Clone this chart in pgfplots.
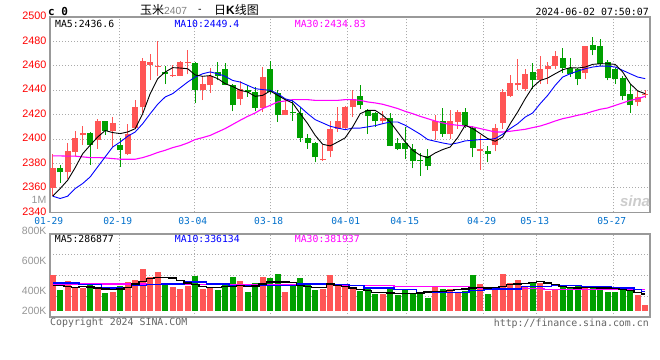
\documentclass[border=0pt]{standalone}
\usepackage{fontspec}
\usepackage{pgfplots}
\usepackage{pgfplotstable}
\pgfplotsset{compat=1.18}
\newfontfamily\mono{DejaVu Sans Mono}
\newfontfamily\lsans{Liberation Sans}
\newfontfamily\cjk{Noto Sans CJK SC}
\definecolor{upred}{RGB}{255,85,85}
\definecolor{dngreen}{RGB}{0,160,0}
\definecolor{gridc}{RGB}{170,170,170}
\definecolor{borderc}{RGB}{153,153,153}
\definecolor{datec}{RGB}{0,112,204}
\definecolor{ma10c}{RGB}{0,0,255}
\definecolor{ma30c}{RGB}{255,0,255}
\definecolor{labgray}{RGB}{150,150,150}
\definecolor{txtgray}{RGB}{100,100,100}
\newcommand{\fs}[1]{\fontsize{#1}{#1}\selectfont}

\pgfplotstableread{
i o h l c
0 2360 2388 2353 2376
2 2373 2397 2367 2390.6
3 2389 2406.4 2386 2401
4 2403 2411 2395 2405
6 2399.5 2416.5 2392 2415
8 2407 2418 2393.5 2413.5
10 2387.5 2412.6 2387 2404.5
11 2409 2432 2408.5 2426.5
12 2426 2466 2421 2464
13 2461 2470 2448 2463
14 2459 2480 2452 2460
16 2451.6 2461 2451 2452.7
17 2452 2464 2451.6 2463
18 2462 2473 2453 2463
20 2440 2452 2432 2445
21 2444 2458 2438 2452
25 2432.5 2447.5 2427.6 2441
28 2425.5 2459 2422 2451
31 2419.5 2433 2419.5 2424
36 2382.6 2395 2382 2384
37 2390 2415 2385 2408.5
38 2408.5 2426 2406 2415
39 2409 2427 2408.5 2426
40 2426 2440 2418 2433
44 2414.5 2422.7 2412 2417.5
51 2407 2419.5 2399 2415
53 2404 2423.5 2400 2415
54 2414 2423.5 2408.5 2422
57 2390.5 2403 2374.5 2391.6
59 2395 2412 2390 2409
60 2413.5 2441 2408.5 2438.5
61 2435 2452.7 2434.5 2446
62 2444 2466 2440 2446
63 2441 2457 2439 2453.5
65 2448 2467.7 2445 2457
66 2457 2463.5 2445 2459.5
67 2459.5 2472 2457.6 2467.7
71 2454 2476.5 2449 2476.5
78 2430 2439 2427 2434.5
79 2436 2440.5 2433.6 2437
}\upc

\pgfplotstableread{
i o h l c
1 2376.6 2379 2364 2372.8
5 2405 2405.5 2379 2395
7 2414.5 2415 2403.6 2407
9 2395.5 2401 2377 2391
15 2455 2460 2445 2453
19 2462.5 2463 2429.5 2440
22 2455 2463 2448 2452
23 2457 2462 2444 2444.5
24 2444.5 2445 2422.7 2427.6
26 2440 2444 2434.5 2438.5
27 2438.5 2442.6 2422.7 2425.5
29 2457 2464 2437 2438.5
30 2438 2440 2414 2419.5
32 2422.5 2433 2415 2421
33 2421.6 2426 2397.6 2401
34 2401 2404 2392 2397
35 2397 2397.5 2381 2385
41 2435.5 2444 2425 2427.6
42 2423.5 2425 2404 2418.6
43 2421.6 2422 2410 2414.5
45 2417.5 2421.6 2394 2394.5
46 2397 2401 2391 2392
47 2397 2410 2383.5 2391.6
48 2392 2396 2376 2382
49 2383 2388.6 2370 2382
50 2386 2392 2374.5 2377.7
52 2415 2425.5 2401.7 2404
55 2422 2425.5 2409 2410.5
56 2409 2411 2385 2392.7
58 2390.3 2394 2381 2388
64 2455 2462.5 2441 2448
68 2466 2475 2454 2458.5
69 2458.5 2466 2451 2453.5
70 2457 2458.5 2444 2449
72 2477 2483.5 2468.5 2472.6
73 2476.5 2482 2460 2461.7
74 2463 2464.5 2448 2450
75 2457.6 2458 2445 2449.5
76 2450 2452 2431.7 2435
77 2437 2445 2421.6 2427.6
}\dnc

\pgfplotstableread{
i m5 m10 m30
0 2353.2 2353.2 2386.2
1 2359.5 2351.3 2386.2
2 2366.3 2353.2 2386
3 2376.6 2359.5 2386
4 2388 2363.6 2385.4
5 2395 2369 2384.8
6 2401.7 2377.2 2384.8
7 2407 2385.4 2384.6
8 2405.3 2393.5 2384
9 2404.5 2397.6 2383.5
10 2405.8 2402.3 2383.5
11 2408.5 2405.8 2383.5
12 2420.8 2412.6 2384.8
13 2437.2 2420.8 2386.7
14 2449.5 2428.5 2389
15 2454.9 2434.5 2390.8
16 2458.5 2437.2 2393
17 2458.2 2442 2394.6
18 2457.6 2446.7 2396.8
19 2452.5 2450.8 2399.6
20 2451.4 2453.5 2401.2
21 2452 2455 2403
22 2449.5 2453.5 2405.8
23 2445.4 2451.4 2408.6
24 2443 2448 2412
25 2440 2446.7 2415.4
26 2438.5 2444 2418.6
27 2435 2441.3 2421.4
28 2435.8 2440.5 2425
29 2439.4 2440 2427.6
30 2435.8 2437.2 2430.4
31 2432.3 2433 2431.2
32 2429.5 2431.2 2432.3
33 2420.8 2426.3 2432.3
34 2412.6 2420.8 2432.3
35 2403 2415.9 2431.7
36 2395.7 2413.2 2431.7
37 2394.4 2410.5 2431.7
38 2397.6 2409 2431.7
39 2401 2407.7 2432.3
40 2410 2409 2432.3
41 2420.8 2409 2431.7
42 2423.5 2410 2430.4
43 2423.5 2411 2429.6
44 2419.5 2412.6 2428.5
45 2414 2414 2426.8
46 2405.8 2414 2425
47 2397.6 2411.3 2422.7
48 2390.8 2407.7 2420.8
49 2386.7 2404 2418.6
50 2384.8 2399.6 2416.7
51 2388.6 2398.2 2414.8
52 2391.4 2396.8 2413.2
53 2393.5 2395.7 2412
54 2401.2 2396.8 2411.3
55 2411.3 2398.5 2410.7
56 2408.6 2399 2410
57 2404.5 2399.6 2408.6
58 2400.4 2399.6 2407.2
59 2398.2 2400.4 2405.8
60 2401.7 2404 2405.8
61 2412.6 2408.6 2406.4
62 2422.2 2412.6 2407.2
63 2433 2418 2408
64 2442.6 2421.4 2409.4
65 2448 2429 2410.7
66 2450 2435.8 2412.6
67 2453.5 2444 2414.8
68 2456.8 2450.8 2416.7
69 2458.5 2453.5 2418
70 2458.2 2455.7 2419.5
71 2459 2457.6 2420.8
72 2461.2 2459 2422.7
73 2461.7 2459.8 2424.4
74 2461.7 2459.8 2425.5
75 2461.2 2459 2427.6
76 2454.9 2456.3 2429.6
77 2445.4 2453.5 2431.7
78 2439.4 2450.8 2433
79 2437.2 2449.5 2435
}\pma

\pgfplotstableread{
i v
0 503.6
2 460
3 409.7
4 409.7
6 402.4
8 380.8
10 453
11 467.5
12 547
13 489
14 525
16 417
17 402
18 424
20 402
21 414
25 460
28 489
31 380.8
36 402
37 503.6
38 426.5
39 420
40 402
44 366
51 417
53 402
54 373
57 438.6
59 395
60 511
61 445.8
62 467.5
63 417
65 445.8
66 388
67 402
71 424
78 359
79 286.8
}\volup

\pgfplotstableread{
i v
1 395
5 445.8
7 373.5
9 426.5
15 441
19 496.4
22 395
23 438.6
24 489
26 380.8
27 445.8
29 482
30 511
32 426.5
33 482
34 438.6
35 395
41 388
42 417
43 366
45 402
46 359
47 402
48 373
49 373
50 337
52 402
55 388
56 503.6
58 366
64 445.8
68 417
69 417
70 424
72 417
73 417
74 380.8
75 380.8
76 417
77 395
}\voldn

\pgfplotstableread{
i m5 m10 m30
0 429.0 445.8 438.6
1 429.0 445.8 438.6
2 421.7 445.8 438.6
3 414.5 445.8 438.6
4 421.7 433.8 438.6
5 416.9 433.8 438.6
6 409.7 433.8 438.6
7 402.4 409.7 438.6
8 397.6 409.7 438.6
9 402.4 409.7 438.6
10 414.5 414.5 438.6
11 438.6 429.0 438.6
12 457.9 429.0 438.6
13 477.2 433.8 433.8
14 486.8 433.8 433.8
15 486.8 438.6 433.8
16 482.0 438.6 433.8
17 465.1 438.6 433.8
18 445.8 453.0 433.8
19 433.8 453.0 433.8
20 421.7 453.0 433.8
21 414.5 438.6 433.8
22 414.5 438.6 433.8
23 419.3 438.6 433.8
24 421.7 426.5 433.8
25 426.5 426.5 433.8
26 421.7 426.5 433.8
27 424.1 426.5 433.8
28 438.6 426.5 433.8
29 453.0 429.0 433.8
30 453.0 429.0 433.8
31 453.0 429.0 433.8
32 450.6 429.0 433.8
33 429.0 438.6 433.8
34 421.7 438.6 433.8
35 414.5 438.6 433.8
36 414.5 438.6 433.8
37 438.6 433.8 433.8
38 429.0 433.8 433.8
39 421.7 433.8 429.0
40 409.7 426.5 429.0
41 397.6 426.5 429.0
42 390.4 409.7 429.0
43 378.3 409.7 429.0
44 378.3 409.7 429.0
45 373.5 409.7 429.0
46 368.7 397.6 419.3
47 368.7 397.6 419.3
48 368.7 397.6 419.3
49 373.5 378.3 419.3
50 380.8 378.3 419.3
51 385.6 378.3 419.3
52 385.6 378.3 419.3
53 390.4 378.3 419.3
54 397.6 378.3 419.3
55 402.4 378.3 419.3
56 409.7 390.4 407.3
57 414.5 390.4 407.3
58 409.7 402.4 407.3
59 414.5 402.4 407.3
60 421.7 402.4 407.3
61 433.8 402.4 407.3
62 438.6 402.4 407.3
63 443.4 421.7 407.3
64 450.6 421.7 407.3
65 457.9 421.7 407.3
66 445.8 421.7 400.0
67 433.8 429.0 400.0
68 421.7 429.0 400.0
69 414.5 429.0 400.0
70 409.7 429.0 400.0
71 414.5 419.3 400.0
72 414.5 419.3 400.0
73 409.7 419.3 400.0
74 409.7 419.3 400.0
75 404.9 409.7 400.0
76 397.6 409.7 400.0
77 390.4 409.7 400.0
78 378.3 397.6 400.0
79 366.3 385.6 400.0
}\vma

\pgfplotsset{
  kpanel/.style={
    scale only axis, width=600bp, xmin=-0.36, xmax=79.64,
    axis line style={draw=borderc, line width=1.2bp},
    grid=major,
    grid style={draw=gridc, dash pattern=on 1bp off 2bp, line width=0.8bp},
    major tick length=0pt,
    xtick={-0.36,8.84,18.84,28.97,39.24,47.11,57.37,64.44,74.71},
  },
  bars/.style 2 args={draw=none, mark=none, error bars/.cd, y dir=plus, y explicit, error mark=none,
    error bar style={draw=#1, solid, line width=#2}},
}

\begin{document}
\begin{tikzpicture}
\fill[white] (0,0) rectangle (660bp,360bp);
\path[use as bounding box] (0,0) rectangle (660bp,360bp);

% ---------------- price panel ----------------
\begin{axis}[kpanel, at={(50bp,147.7bp)}, anchor=south west, height=195.3bp,
  ymin=2340, ymax=2500,
  ytick={2340,2360,2380,2400,2420,2440,2460,2480,2500},
  yticklabels={2340,2360,2380,2400,2420,2440,2460,2480,2500},
  yticklabel style={font=\lsans\fs{10.8bp}, text=red, anchor=east, inner sep=0pt, xshift=-3.5bp, yshift=1bp},
  xticklabels={01-29,02-19,03-04,03-18,04-01,04-15,04-29,05-13,05-27},
  xticklabel style={font=\mono\fs{9.6bp}, text=datec, anchor=center, inner sep=0pt, yshift=-8.7bp, xshift=-1.3bp},
]
% wicks
\addplot[bars={upred}{1bp}]
  table[x=i, y=l, y error plus expr=\thisrow{h}-\thisrow{l}] {\upc};
\addplot[bars={dngreen}{1bp}]
  table[x=i, y=l, y error plus expr=\thisrow{h}-\thisrow{l}] {\dnc};
% bodies
\addplot[bars={upred}{5.7bp}]
  table[x=i, y=o, y error plus expr=\thisrow{c}-\thisrow{o}] {\upc};
\addplot[bars={dngreen}{5.7bp}]
  table[x=i, y=c, y error plus expr=\thisrow{o}-\thisrow{c}] {\dnc};
% moving averages
\addplot[ma30c, line width=1.1bp, mark=none] table[x=i, y=m30] {\pma};
\addplot[ma10c, line width=0.9bp, mark=none] table[x=i, y=m10] {\pma};
\addplot[black, line width=0.9bp, mark=none] table[x=i, y=m5] {\pma};
\end{axis}

% ---------------- volume panel ----------------
\begin{axis}[kpanel, at={(50bp,43bp)}, anchor=south west, height=83bp,
  ymin=200, ymax=800,
  ytick={350,500,650}, yticklabels={}, xticklabels={},
]
\addplot[bars={upred}{5.7bp}]
  table[x=i, y expr=245, y error plus expr=\thisrow{v}-245] {\volup};
\addplot[bars={dngreen}{5.7bp}]
  table[x=i, y expr=245, y error plus expr=\thisrow{v}-245] {\voldn};
\addplot[const plot mark mid, ma30c, line width=1.1bp, mark=none] table[x=i, y=m30] {\vma};
\addplot[const plot mark mid, ma10c, line width=1.1bp, mark=none] table[x=i, y=m10] {\vma};
\addplot[const plot mark mid, black, line width=1.1bp, mark=none] table[x=i, y=m5] {\vma};
\end{axis}

% ---------------- texts ----------------
\node[anchor=west, inner sep=0pt] at (48bp,348.5bp) {\mono\bfseries\fs{11bp}c 0};
\node[anchor=west, inner sep=0pt] at (140bp,350bp) {{\cjk\fs{12bp}玉米}{\lsans\fs{10.3bp}\color{gray}2407}};
\node[inner sep=0pt] at (200bp,349bp) {\mono\fs{10bp}-};
\node[anchor=west, inner sep=0pt] at (214bp,350bp) {{\cjk\fs{12bp}日}{\lsans\bfseries\fs{12bp}K}{\cjk\fs{12bp}线图}};
\node[anchor=east, inner sep=0pt] at (649bp,348.3bp) {\mono\fs{9.9bp}2024-06-02 07:50:07};

\node[anchor=west, inner sep=0pt] at (55bp,336bp) {\mono\fs{9.8bp}MA5:2436.6};
\node[anchor=west, inner sep=0pt, text=ma10c] at (174.3bp,336bp) {\mono\fs{9.8bp}MA10:2449.4};
\node[anchor=west, inner sep=0pt, text=ma30c] at (294.7bp,336bp) {\mono\fs{9.8bp}MA30:2434.83};

\node[anchor=west, inner sep=0pt] at (54.7bp,121bp) {\mono\fs{9.8bp}MA5:286877};
\node[anchor=west, inner sep=0pt, text=ma10c] at (174.7bp,121bp) {\mono\fs{9.8bp}MA10:336134};
\node[anchor=west, inner sep=0pt, text=ma30c] at (294.7bp,121bp) {\mono\fs{9.8bp}MA30:381937};

\node[anchor=east, inner sep=0pt, text=labgray] at (46.5bp,160bp) {\lsans\fs{10.5bp}1M};
\node[anchor=east, inner sep=0pt, text=labgray] at (46.7bp,128.7bp) {\lsans\fs{10.5bp}800K};
\node[anchor=east, inner sep=0pt, text=labgray] at (46.7bp,98.7bp) {\lsans\fs{10.5bp}600K};
\node[anchor=east, inner sep=0pt, text=labgray] at (46.7bp,69.3bp) {\lsans\fs{10.5bp}400K};
\node[anchor=east, inner sep=0pt, text=labgray] at (46.7bp,49.3bp) {\lsans\fs{10.5bp}200K};

\node[anchor=west, inner sep=0pt, text=txtgray] at (50bp,36.7bp) {\mono\fs{9.9bp}Copyright 2024 SINA.COM};
\node[anchor=east, inner sep=0pt, text=txtgray] at (649bp,36.3bp) {\mono\fs{9.9bp}http://finance.sina.com.cn};

\node[inner sep=0pt, text=gray!40] at (635bp,159bp) {\lsans\bfseries\itshape\fs{15bp}sina};
\end{tikzpicture}
\end{document}
